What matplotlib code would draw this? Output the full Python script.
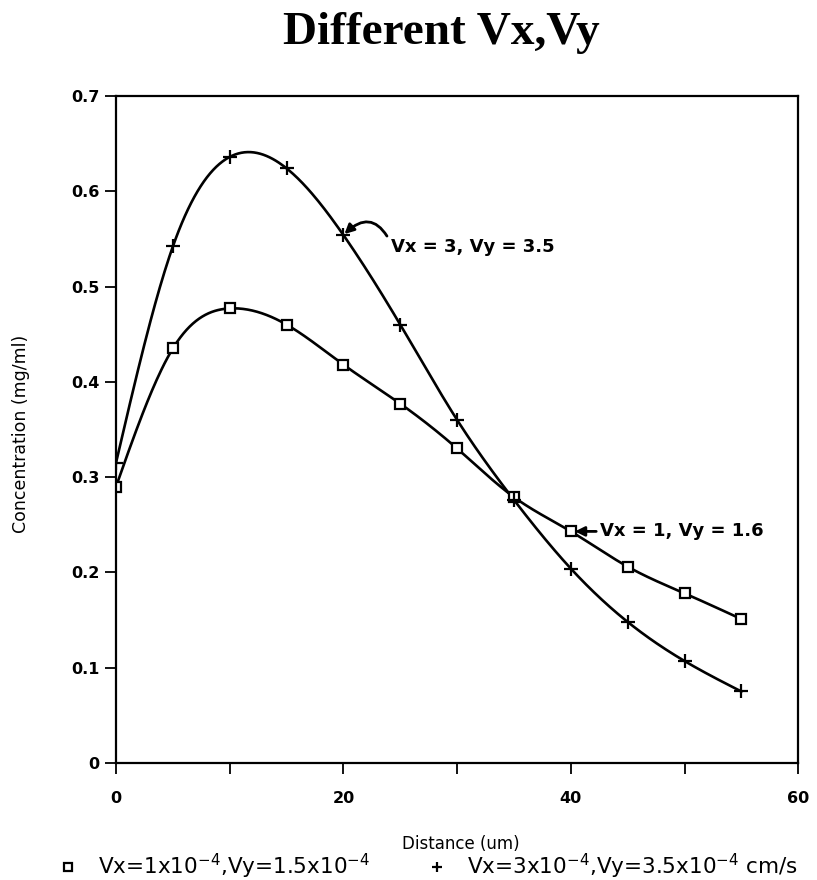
import matplotlib
matplotlib.use("Agg")
import matplotlib.pyplot as plt
import numpy as np

# data
distance = [0, 5, 10, 15, 20, 25, 30, 35, 40, 45, 50, 55]
conc_low = [0.29, 0.435, 0.477, 0.460, 0.418, 0.377, 0.330, 0.279, 0.243, 0.206, 0.178, 0.151]
conc_high = [0.315, 0.542, 0.636, 0.624, 0.554, 0.460, 0.360, 0.276, 0.204, 0.148, 0.107, 0.075]
label_low = r'Vx=1x10$^{-4}$,Vy=1.5x10$^{-4}$'
label_high = r'Vx=3x10$^{-4}$,Vy=3.5x10$^{-4}$ cm/s'
xticks = [0, 10, 20, 30, 40, 50, 60]
xticklabels = ['0', '', '20', '', '40', '', '60']
yticks = [0, 0.1, 0.2, 0.3, 0.4, 0.5, 0.6, 0.7]
yticklabels = ['0', '0.1', '0.2', '0.3', '0.4', '0.5', '0.6', '0.7']


def natural_spline(x, y, n=400):
    # plain natural cubic spline, just for the smooth connecting line
    x = np.asarray(x, float)
    y = np.asarray(y, float)
    k = len(x)
    h = np.diff(x)
    A = np.zeros((k, k))
    b = np.zeros(k)
    A[0, 0] = 1
    A[-1, -1] = 1
    for i in range(1, k - 1):
        A[i, i - 1] = h[i - 1]
        A[i, i] = 2 * (h[i - 1] + h[i])
        A[i, i + 1] = h[i]
        b[i] = 3 * ((y[i + 1] - y[i]) / h[i] - (y[i] - y[i - 1]) / h[i - 1])
    c = np.linalg.solve(A, b)
    xs = np.linspace(x[0], x[-1], n)
    ys = np.empty_like(xs)
    for j, xv in enumerate(xs):
        i = min(np.searchsorted(x, xv, side='right') - 1, k - 2)
        d = xv - x[i]
        bi = (y[i + 1] - y[i]) / h[i] - h[i] * (2 * c[i] + c[i + 1]) / 3
        di = (c[i + 1] - c[i]) / (3 * h[i])
        ys[j] = y[i] + bi * d + c[i] * d ** 2 + di * d ** 3
    return xs, ys


fig = plt.figure(figsize=(8.17, 8.8), dpi=100)
ax = fig.add_axes([0.142, 0.133, 0.835, 0.758])

xs, ys = natural_spline(distance, conc_low)
ax.plot(xs, ys, color='black', lw=1.9)
xs, ys = natural_spline(distance, conc_high)
ax.plot(xs, ys, color='black', lw=1.9)

ax.plot(distance, conc_low, linestyle='none', marker='s', markersize=7,
        markerfacecolor='white', markeredgecolor='black', markeredgewidth=1.6,
        label=label_low)
ax.plot(distance, conc_high, linestyle='none', marker='+', markersize=10,
        color='black', markeredgewidth=1.6, label=label_high)

ax.set_xlim(0, 60)
ax.set_ylim(0, 0.7)
ax.set_xticks(xticks)
ax.set_xticklabels(xticklabels)
ax.set_yticks(yticks)
ax.set_yticklabels(yticklabels)
ax.tick_params(axis='both', direction='out', length=8, width=1.3, labelsize=11.5)
ax.tick_params(axis='x', pad=12)
ax.tick_params(axis='y', pad=4)
for lab in ax.get_xticklabels() + ax.get_yticklabels():
    lab.set_fontweight('bold')
for sp in ax.spines.values():
    sp.set_linewidth(1.6)

ax.set_xlabel('Distance (um)', fontsize=12)
ax.xaxis.set_label_coords(0.505, -0.108)
ax.set_ylabel('Concentration (mg/ml)', fontsize=12.5)
ax.yaxis.set_label_coords(-0.126, 0.493)

fig.text(0.54, 0.962, 'Different Vx,Vy', fontsize=34, fontweight='bold',
         family='Liberation Serif', ha='center', va='center')

ax.annotate('Vx = 3, Vy = 3.5', xy=(distance[4], conc_high[4]), xytext=(24.2, 0.541),
            fontsize=13, fontweight='bold', va='center', ha='left',
            arrowprops=dict(arrowstyle='-|>', color='black', lw=2, relpos=(0, 0.7),
                            connectionstyle='arc3,rad=0.7', shrinkA=2, shrinkB=1,
                            mutation_scale=14))
ax.annotate('Vx = 1, Vy = 1.6', xy=(distance[8], conc_low[8]), xytext=(42.6, 0.243),
            fontsize=13, fontweight='bold', va='center', ha='left',
            arrowprops=dict(arrowstyle='-|>', color='black', lw=2,
                            shrinkA=1, shrinkB=3, mutation_scale=14))

fig.legend(loc='center', bbox_to_anchor=(0.523, 0.015), ncol=2, frameon=False,
           fontsize=15.5, columnspacing=2.6, handletextpad=0.9, handlelength=1.0,
           markerscale=0.75)

fig.savefig('out.png', dpi=100)
